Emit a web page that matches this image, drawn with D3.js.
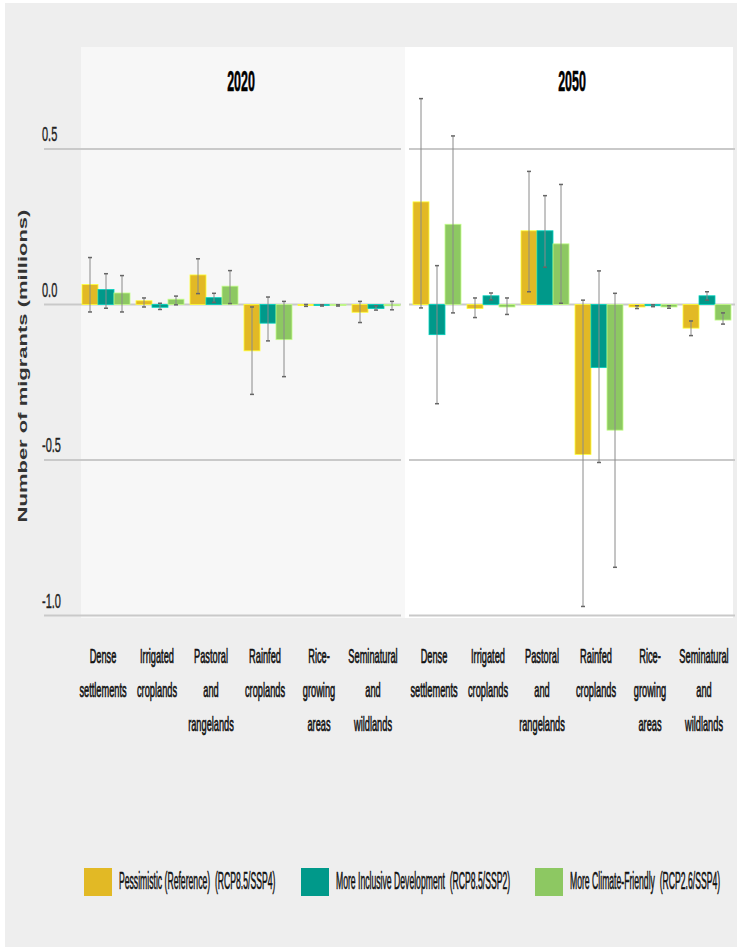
<!DOCTYPE html>
<html>
<head>
<meta charset="utf-8">
<script src="https://cdn.jsdelivr.net/npm/d3@7"></script>
<style>
  html, body { margin: 0; padding: 0; background: #ffffff; }
  svg { display: block; }
  text { font-family: "Liberation Sans", Arial, sans-serif; white-space: pre; }
</style>
</head>
<body>
<div id="chart"></div>
<script>
// 数据
var categories = ['Dense settlements', 'Irrigated croplands', 'Pastoral and rangelands', 'Rainfed croplands', 'Rice-growing areas', 'Seminatural and wildlands'];
var categoryLines = [['Dense', 'settlements'], ['Irrigated', 'croplands'], ['Pastoral', 'and', 'rangelands'], ['Rainfed', 'croplands'], ['Rice-', 'growing', 'areas'], ['Seminatural', 'and', 'wildlands']];
var years = ['2020', '2050'];
var scenarios = ['Pessimistic (Reference)  (RCP8.5/SSP4)', 'More Inclusive Development  (RCP8.5/SSP2)', 'More Climate-Friendly  (RCP2.6/SSP4)'];
var scenarioColors = ['#e2b925', '#00998a', '#8dc862'];
var yTicks = [0.5, 0.0, -0.5, -1.0];

// 2020
var pess2020 = [0.064, 0.012, 0.095, -0.149, -0.003, -0.025];
var pess2020Low = [-0.024, -0.008, 0.035, -0.289, -0.006, -0.058];
var pess2020High = [0.151, 0.021, 0.147, -0.008, 0.000, 0.010];
var incl2020 = [0.048, -0.009, 0.022, -0.060, -0.003, -0.013];
var incl2020Low = [-0.012, -0.016, 0.007, -0.117, -0.005, -0.018];
var incl2020High = [0.099, 0.004, 0.036, 0.024, -0.001, -0.004];
var clim2020 = [0.037, 0.017, 0.059, -0.113, -0.003, -0.004];
var clim2020Low = [-0.024, -0.001, 0.003, -0.232, -0.005, -0.017];
var clim2020High = [0.093, 0.027, 0.109, 0.010, -0.001, 0.010];

// 2050
var pess2050 = [0.330, -0.013, 0.237, -0.482, -0.008, -0.076];
var pess2050Low = [-0.011, -0.042, 0.041, -0.971, -0.013, -0.100];
var pess2050High = [0.662, 0.021, 0.428, 0.014, -0.004, -0.053];
var incl2050 = [-0.097, 0.028, 0.237, -0.203, -0.004, 0.028];
var incl2050Low = [-0.319, 0.015, 0.120, -0.508, -0.007, 0.014];
var incl2050High = [0.125, 0.037, 0.350, 0.108, -0.001, 0.041];
var clim2050 = [0.258, -0.008, 0.195, -0.404, -0.008, -0.050];
var clim2050Low = [-0.027, -0.032, 0.004, -0.845, -0.012, -0.063];
var clim2050High = [0.542, 0.021, 0.386, 0.036, -0.004, -0.027];

var seriesByYear = {
  '2020': [[pess2020, pess2020Low, pess2020High], [incl2020, incl2020Low, incl2020High], [clim2020, clim2020Low, clim2020High]],
  '2050': [[pess2050, pess2050Low, pess2050High], [incl2050, incl2050Low, incl2050High], [clim2050, clim2050Low, clim2050High]]
};

var width = 741, height = 951;
var panels = [
  { year: '2020', bg: '#f7f7f7', x0: 81, x1: 405, band: [79, 403], grid: [44, 401] },
  { year: '2050', bg: '#ffffff', x0: 405, x1: 733, band: [410, 734], grid: [409, 735] }
];
var panelTop = 47, panelBottom = 618;

var svg = d3.select('#chart').append('svg').attr('width', width).attr('height', height);

// 背景
svg.append('rect').attr('x', 5).attr('y', 3).attr('width', 732).attr('height', 944).attr('fill', '#eeeeee');

var y = d3.scaleLinear().domain([-1, 0.5]).range([615.5, 149]);

// 水平压缩的文字
function squeezed(sel, x, yy, k) {
  return sel.attr('transform', 'translate(' + x + ',' + yy + ') scale(' + k + ',1)');
}

panels.forEach(function(p, pi) {
  var g = svg.append('g');
  g.append('rect').attr('x', p.x0).attr('y', panelTop).attr('width', p.x1 - p.x0).attr('height', panelBottom - panelTop).attr('fill', p.bg);

  // 网格线
  g.selectAll('.grid').data(yTicks).enter().append('line')
    .attr('x1', p.grid[0]).attr('x2', p.grid[1])
    .attr('y1', function(d) { return y(d); }).attr('y2', function(d) { return y(d); })
    .attr('stroke', '#c9c9c9').attr('stroke-width', 2);

  if(pi == 0) {
    g.selectAll('.tick').data(yTicks).enter().append('text')
      .attr('font-size', 20).attr('fill', '#222').attr('stroke', '#222').attr('stroke-width', 0.4)
      .each(function(d) { squeezed(d3.select(this), 42, y(d) - 8, 0.55); })
      .text(function(d) { return d3.format('.1f')(d).replace('−', '-'); });
  }

  // 标题
  squeezed(g.append('text'), (p.band[0] + p.band[1]) / 2, 91, 0.43)
    .attr('text-anchor', 'middle').attr('font-size', 29).attr('font-weight', 'bold').attr('fill', '#000')
    .attr('stroke', '#000').attr('stroke-width', 0.6)
    .text(p.year);

  var x0 = d3.scaleBand().domain(categories).range(p.band).paddingInner(6 / 54).paddingOuter(3 / 54);
  var x1 = d3.scaleBand().domain(d3.range(scenarios.length)).range([0, x0.bandwidth()]);

  var rows = [];
  seriesByYear[p.year].forEach(function(s, si) {
    categories.forEach(function(c, ci) {
      rows.push({ cat: c, s: si, v: s[0][ci], lo: s[1][ci], hi: s[2][ci] });
    });
  });

  // 柱子
  g.selectAll('.bar').data(rows).enter().append('rect')
    .attr('x', function(d) { return x0(d.cat) + x1(d.s); })
    .attr('width', x1.bandwidth())
    .attr('y', function(d) { return y(Math.max(0, d.v)); })
    .attr('height', function(d) { return Math.max(1, Math.abs(y(d.v) - y(0))); })
    .attr('fill', function(d) { return scenarioColors[d.s]; })
    .attr('stroke', function(d) { return d3.color(scenarioColors[d.s]).brighter(0.9); })
    .attr('stroke-width', 0.8);

  // 误差线
  var eb = g.selectAll('.err').data(rows).enter().append('g')
    .attr('transform', function(d) { return 'translate(' + (x0(d.cat) + x1(d.s) + x1.bandwidth() / 2) + ',0)'; });
  eb.append('line').attr('x1', 0).attr('x2', 0)
    .attr('y1', function(d) { return y(d.hi); }).attr('y2', function(d) { return y(d.lo); })
    .attr('stroke', '#8a8a8a').attr('stroke-width', 1);
  eb.append('line').attr('x1', -2).attr('x2', 2)
    .attr('y1', function(d) { return y(d.hi); }).attr('y2', function(d) { return y(d.hi); })
    .attr('stroke', '#666').attr('stroke-width', 1.5);
  eb.append('line').attr('x1', -2).attr('x2', 2)
    .attr('y1', function(d) { return y(d.lo); }).attr('y2', function(d) { return y(d.lo); })
    .attr('stroke', '#666').attr('stroke-width', 1.5);

  // 类别标签
  categories.forEach(function(c, ci) {
    var cx = x0(c) + x0.bandwidth() / 2 - 3;
    categoryLines[ci].forEach(function(line, li) {
      squeezed(g.append('text'), cx, 663 + li * 34, 0.44)
        .attr('text-anchor', 'middle').attr('font-size', 21).attr('fill', '#111')
        .attr('stroke', '#111').attr('stroke-width', 0.7)
        .text(line);
    });
  });
});

// y轴标题
svg.append('text')
  .attr('transform', 'translate(27,366) scale(0.55,1) rotate(-90)')
  .attr('text-anchor', 'middle').attr('font-size', 22).attr('font-weight', 'bold').attr('fill', '#333')
  .text('Number of migrants (millions)');

// 图例
var legendX = [84, 301, 535];
var legend = svg.selectAll('.legend').data(scenarios).enter().append('g')
  .attr('transform', function(d, i) { return 'translate(' + legendX[i] + ',868)'; });
legend.append('rect').attr('width', 28).attr('height', 28).attr('fill', function(d, i) { return scenarioColors[i]; });
legend.append('text').attr('font-size', 24).attr('fill', '#111').attr('stroke', '#111').attr('stroke-width', 0.6)
  .each(function() { squeezed(d3.select(this), 35, 21, 0.36); })
  .text(function(d) { return d; });
</script>
</body>
</html>
